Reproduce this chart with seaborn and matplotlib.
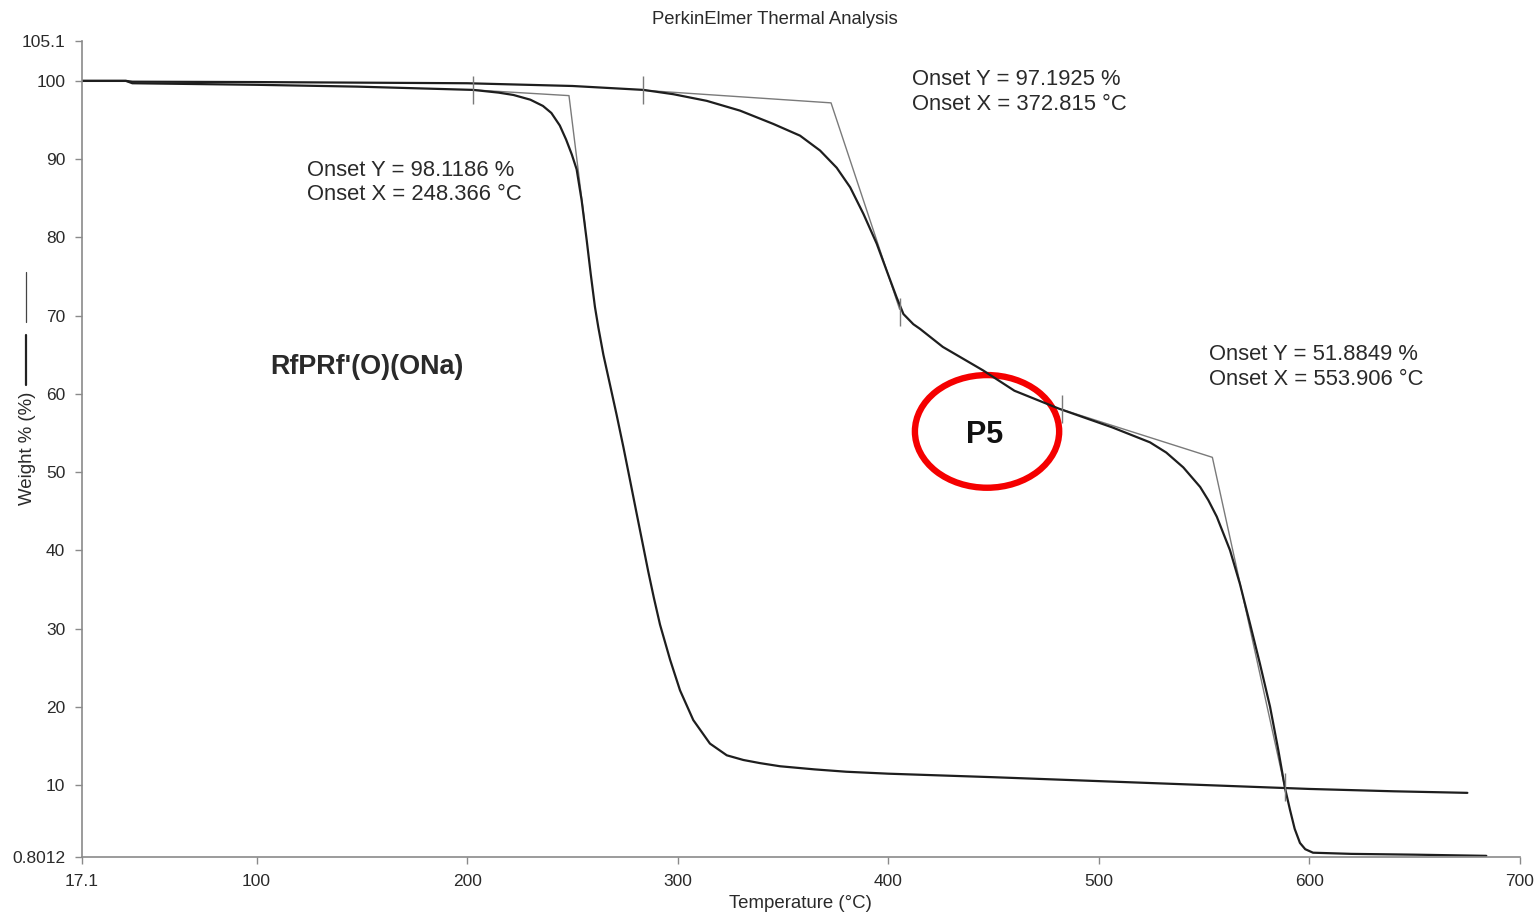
import matplotlib
matplotlib.use("Agg")
import matplotlib.pyplot as plt
from matplotlib.patches import Ellipse
from matplotlib.lines import Line2D
import seaborn as sns
import pandas as pd

# ---------------- data ----------------
curve1_temp = [17.1, 38, 41, 100, 147.7, 202.8, 215, 222, 230, 236, 240, 244, 247, 249.7, 252.0,
               254.4, 256.8, 258.7, 260.7, 262.3, 264.7, 267.9, 271.0, 274.2, 277.4, 280.5,
               283.7, 286.0, 288.7, 291.6, 296.4, 301.1, 307.4, 315.3, 323.3, 331.2, 339.1,
               348.6, 365, 380, 400, 450, 500, 550, 600, 640, 675]
curve1_weight = [100.0, 100.0, 99.7, 99.5, 99.27, 98.85, 98.5, 98.2, 97.6, 96.8, 95.9, 94.3, 92.5,
                 90.6, 88.7, 84.7, 79.6, 75.3, 71.1, 68.5, 65.0, 61.1, 57.3, 53.2, 48.9, 44.7,
                 40.4, 37.3, 33.9, 30.5, 26.0, 22.1, 18.3, 15.3, 13.8, 13.2, 12.8,
                 12.4, 12.0, 11.7, 11.45, 11.0, 10.5, 10.0, 9.5, 9.2, 9.0]

curve2_temp = [17.1, 38, 41, 100, 200, 250, 283.7, 297.9, 313.8, 329.6, 345.4, 358.1, 367.6,
               375.5, 381.9, 388.2, 394.5, 399.3, 404.0, 407.2, 411.9, 415.1, 425.9, 445,
               459.9, 481.1, 506.5, 524.3, 532, 540.1, 548.1, 552, 556.0, 562.3, 567.0,
               571.8, 576.5, 581.3, 585.2, 588.4, 590.8, 593, 595.5, 598, 601.7, 620, 650, 684]
curve2_weight = [100.0, 100.0, 99.9, 99.85, 99.7, 99.35, 98.85, 98.3, 97.45, 96.2, 94.5, 93.0, 91.1,
                 88.9, 86.4, 83.0, 79.2, 75.7, 72.3, 70.2, 68.9, 68.3, 66.0, 63.0,
                 60.4, 58.1, 55.7, 53.8, 52.5, 50.6, 48.1, 46.4, 44.3, 40.0, 35.7,
                 30.6, 25.5, 20.0, 14.5, 9.6, 6.8, 4.4, 2.6, 1.8, 1.35, 1.2, 1.1, 0.95]

# onset constructions: (baseline point, onset point, inflection point)
onsetA_temp = [202.8, 248.366, 256.0]
onsetA_weight = [98.85, 98.1186, 81.5]
onsetB_temp = [283.7, 372.815, 405.4]
onsetB_weight = [98.8, 97.1925, 70.8]
onsetC_temp = [482.5, 553.906, 588.4]
onsetC_weight = [58.0, 51.8849, 9.6]

marker_temp = [202.8, 283.7, 405.4, 482.5, 588.4]
marker_weight = [98.85, 98.8, 70.5, 58.0, 9.7]

x_ticks = [17.1, 100, 200, 300, 400, 500, 600, 700]
x_ticklabels = ["17.1", "100", "200", "300", "400", "500", "600", "700"]
y_ticks = [0.8012, 10, 20, 30, 40, 50, 60, 70, 80, 90, 100, 105.1]
y_ticklabels = ["0.8012", "10", "20", "30", "40", "50", "60", "70", "80", "90", "100", "105.1"]

annotations = [
    ("Onset Y = 98.1186 %\nOnset X = 248.366 °C", 124.0, 87.0),
    ("Onset Y = 97.1925 %\nOnset X = 372.815 °C", 411.3, 98.55),
    ("Onset Y = 51.8849 %\nOnset X = 553.906 °C", 552.3, 63.45),
]

# ---------------- style ----------------
sns.set_theme(style="white")
plt.rcParams['font.family'] = ['Liberation Sans', 'DejaVu Sans']

fig = plt.figure(figsize=(15.36, 9.14), dpi=100)
ax = fig.add_axes([82 / 1536, 1 - 857 / 914, (1520 - 82) / 1536, (857 - 41) / 914])

df1 = pd.DataFrame({"T": curve1_temp, "W": curve1_weight})
df2 = pd.DataFrame({"T": curve2_temp, "W": curve2_weight})

line_col = "#1e1e1e"
tan_col = "#7a7a7a"

for ta, wa in [(onsetA_temp, onsetA_weight), (onsetB_temp, onsetB_weight), (onsetC_temp, onsetC_weight)]:
    sns.lineplot(x=ta, y=wa, ax=ax, color=tan_col, lw=1.0, sort=False, estimator=None)

sns.lineplot(data=df1, x="T", y="W", ax=ax, color=line_col, lw=1.6, estimator=None)
sns.lineplot(data=df2, x="T", y="W", ax=ax, color=line_col, lw=1.6, estimator=None)

ax.plot(marker_temp, marker_weight, ls="none", marker="|", markersize=20,
        markeredgewidth=1.0, color=tan_col)

ax.set_xlim(17.1, 700)
ax.set_ylim(0.8012, 105.1)
ax.set_xticks(x_ticks)
ax.set_xticklabels(x_ticklabels)
ax.set_yticks(y_ticks)
ax.set_yticklabels(y_ticklabels)
ax.set_xlabel("")
ax.set_ylabel("")

for s in ["top", "right"]:
    ax.spines[s].set_visible(False)
for s in ["left", "bottom"]:
    ax.spines[s].set_color("#8a8a8a")
    ax.spines[s].set_linewidth(1.2)
ax.tick_params(axis="both", which="major", direction="out", length=5, width=1.0,
               color="#8a8a8a", labelsize=12.5, labelcolor="#2a2a2a")
ax.tick_params(axis="x", pad=7)
ax.tick_params(axis="y", pad=7)
ax.tick_params(axis="both", bottom=True, left=True)

# annotations
for txt, tx, ty in annotations:
    ax.text(tx, ty, txt, fontsize=15.8, color="#2a2a2a", ha="left", va="center", linespacing=1.22)

ax.text(106.4, 63.4, "RfPRf'(O)(ONa)", fontsize=19.4, fontweight="bold", color="#2a2a2a",
        ha="left", va="center")
ax.text(445.9, 54.8, "P5", fontsize=22, fontweight="bold", color="#111111",
        ha="center", va="center")
ax.add_patch(Ellipse((446.9, 55.2), 68.5, 14.4, fill=False, edgecolor="#f50000", lw=4.6))

# titles and labels in figure coordinates
fig.text(775 / 1536, 1 - 20 / 914, "PerkinElmer Thermal Analysis", fontsize=13.3,
         color="#2a2a2a", ha="center", va="center")
fig.text(800 / 1536, 1 - 903 / 914, "Temperature (°C)", fontsize=13.4,
         color="#2a2a2a", ha="center", va="center")
fig.text(27 / 1536, 1 - 448 / 914, "Weight % (%)", fontsize=13.4, rotation=90,
         color="#2a2a2a", ha="center", va="center")
fig.add_artist(Line2D([26 / 1536, 26 / 1536], [1 - 272 / 914, 1 - 322 / 914],
                      color="#444444", lw=0.9, transform=fig.transFigure))
fig.add_artist(Line2D([26 / 1536, 26 / 1536], [1 - 335 / 914, 1 - 385 / 914],
                      color="#222222", lw=1.6, transform=fig.transFigure))

fig.savefig("out.png", dpi=100, facecolor="white")
